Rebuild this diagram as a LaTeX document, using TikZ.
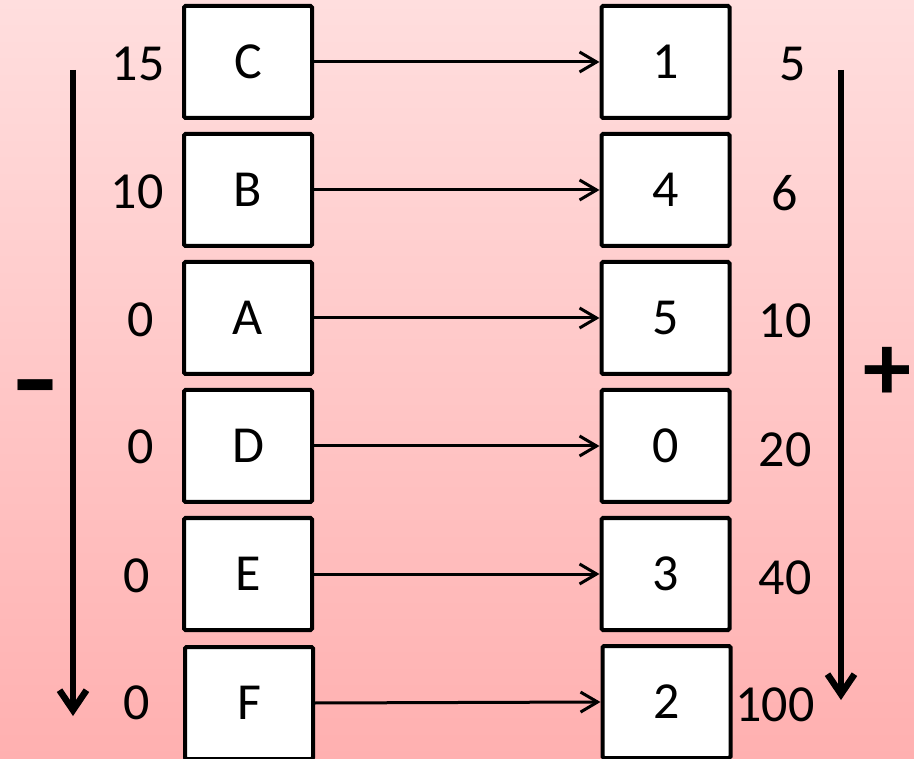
\documentclass[tikz,border=0pt]{standalone}
\usepackage{fontspec}
\setmainfont{Carlito}
\usetikzlibrary{arrows.meta}
\begin{document}
\begin{tikzpicture}[x=1pt,y=-1pt,
  box/.style={draw=black, line width=4pt, fill=white, minimum width=128pt, minimum height=112pt, inner sep=0pt, rounded corners=1.5pt, font=\fontsize{52}{52}\selectfont},
  num/.style={font=\fontsize{52}{52}\selectfont, inner sep=0pt},
  sign/.style={font=\fontsize{96}{96}\selectfont\bfseries, inner sep=0pt},
  bigsign/.style={font=\fontsize{150}{150}\selectfont, inner sep=0pt},
  link/.style={line width=3pt, -{Straight Barb[length=17pt, width=20pt, line width=3pt]}},
  big/.style={line width=6.5pt, -{Straight Barb[length=20pt, width=27pt, line width=6.5pt]}}]
\useasboundingbox (0,0) rectangle (914,759);
\clip (0,0) rectangle (914,759);
\fill[top color={rgb,255:red,255;green,222;blue,222}, bottom color={rgb,255:red,255;green,176;blue,176}, shading angle=0] (0,0) rectangle (914,759);

% left boxes
\node[box] (C) at (248,62) {C};
\node[box] (B) at (248,190) {B};
\node[box] (A) at (248,318) {A};
\node[box] (D) at (248,446) {D};
\node[box] (E) at (248,574) {E};
\node[box] (F) at (249,703) {F};
% right boxes
\node[box] (r1) at (665.5,62) {1};
\node[box] (r4) at (665.5,190) {4};
\node[box] (r5) at (665.5,318) {5};
\node[box] (r0) at (665.5,446) {0};
\node[box] (r3) at (665.5,574) {3};
\node[box] (r2) at (666.5,702) {2};

% links
\draw[link] (C) -- (r1);
\draw[link] (B) -- (r4);
\draw[link] (A) -- (r5);
\draw[link] (D) -- (r0);
\draw[link] (E) -- (r3);
\draw[link] (F.east) -- (r2.west);

% left numbers
\node[num] (n15) at (138,64) {15};
\node[num] (n10) at (137,192) {10};
\node[num] (n0a) at (141,320) {0};
\node[num] (n0d) at (141,447) {0};
\node[num] (n0e) at (137,576) {0};
\node[num] (n0f) at (137,703) {0};
% right numbers
\node[num] (m5) at (793,64) {5};
\node[num] (m6) at (785,193) {6};
\node[num] (m10) at (785,321) {10};
\node[num] (m20) at (785,450) {20};
\node[num] (m40) at (785,578) {40};
\node[num] (m100) at (775,705) {100};

% big arrows
\coordinate (ls) at (73,70);
\coordinate (le) at (73,716);
\coordinate (rs) at (841,70);
\coordinate (re) at (841,700);
\draw[big] (ls) -- (le);
\draw[big] (rs) -- (re);

% signs
\node[bigsign] (minus) at (35,404) {-};
\node[sign] (plus) at (887,374) {+};
\end{tikzpicture}
\end{document}
